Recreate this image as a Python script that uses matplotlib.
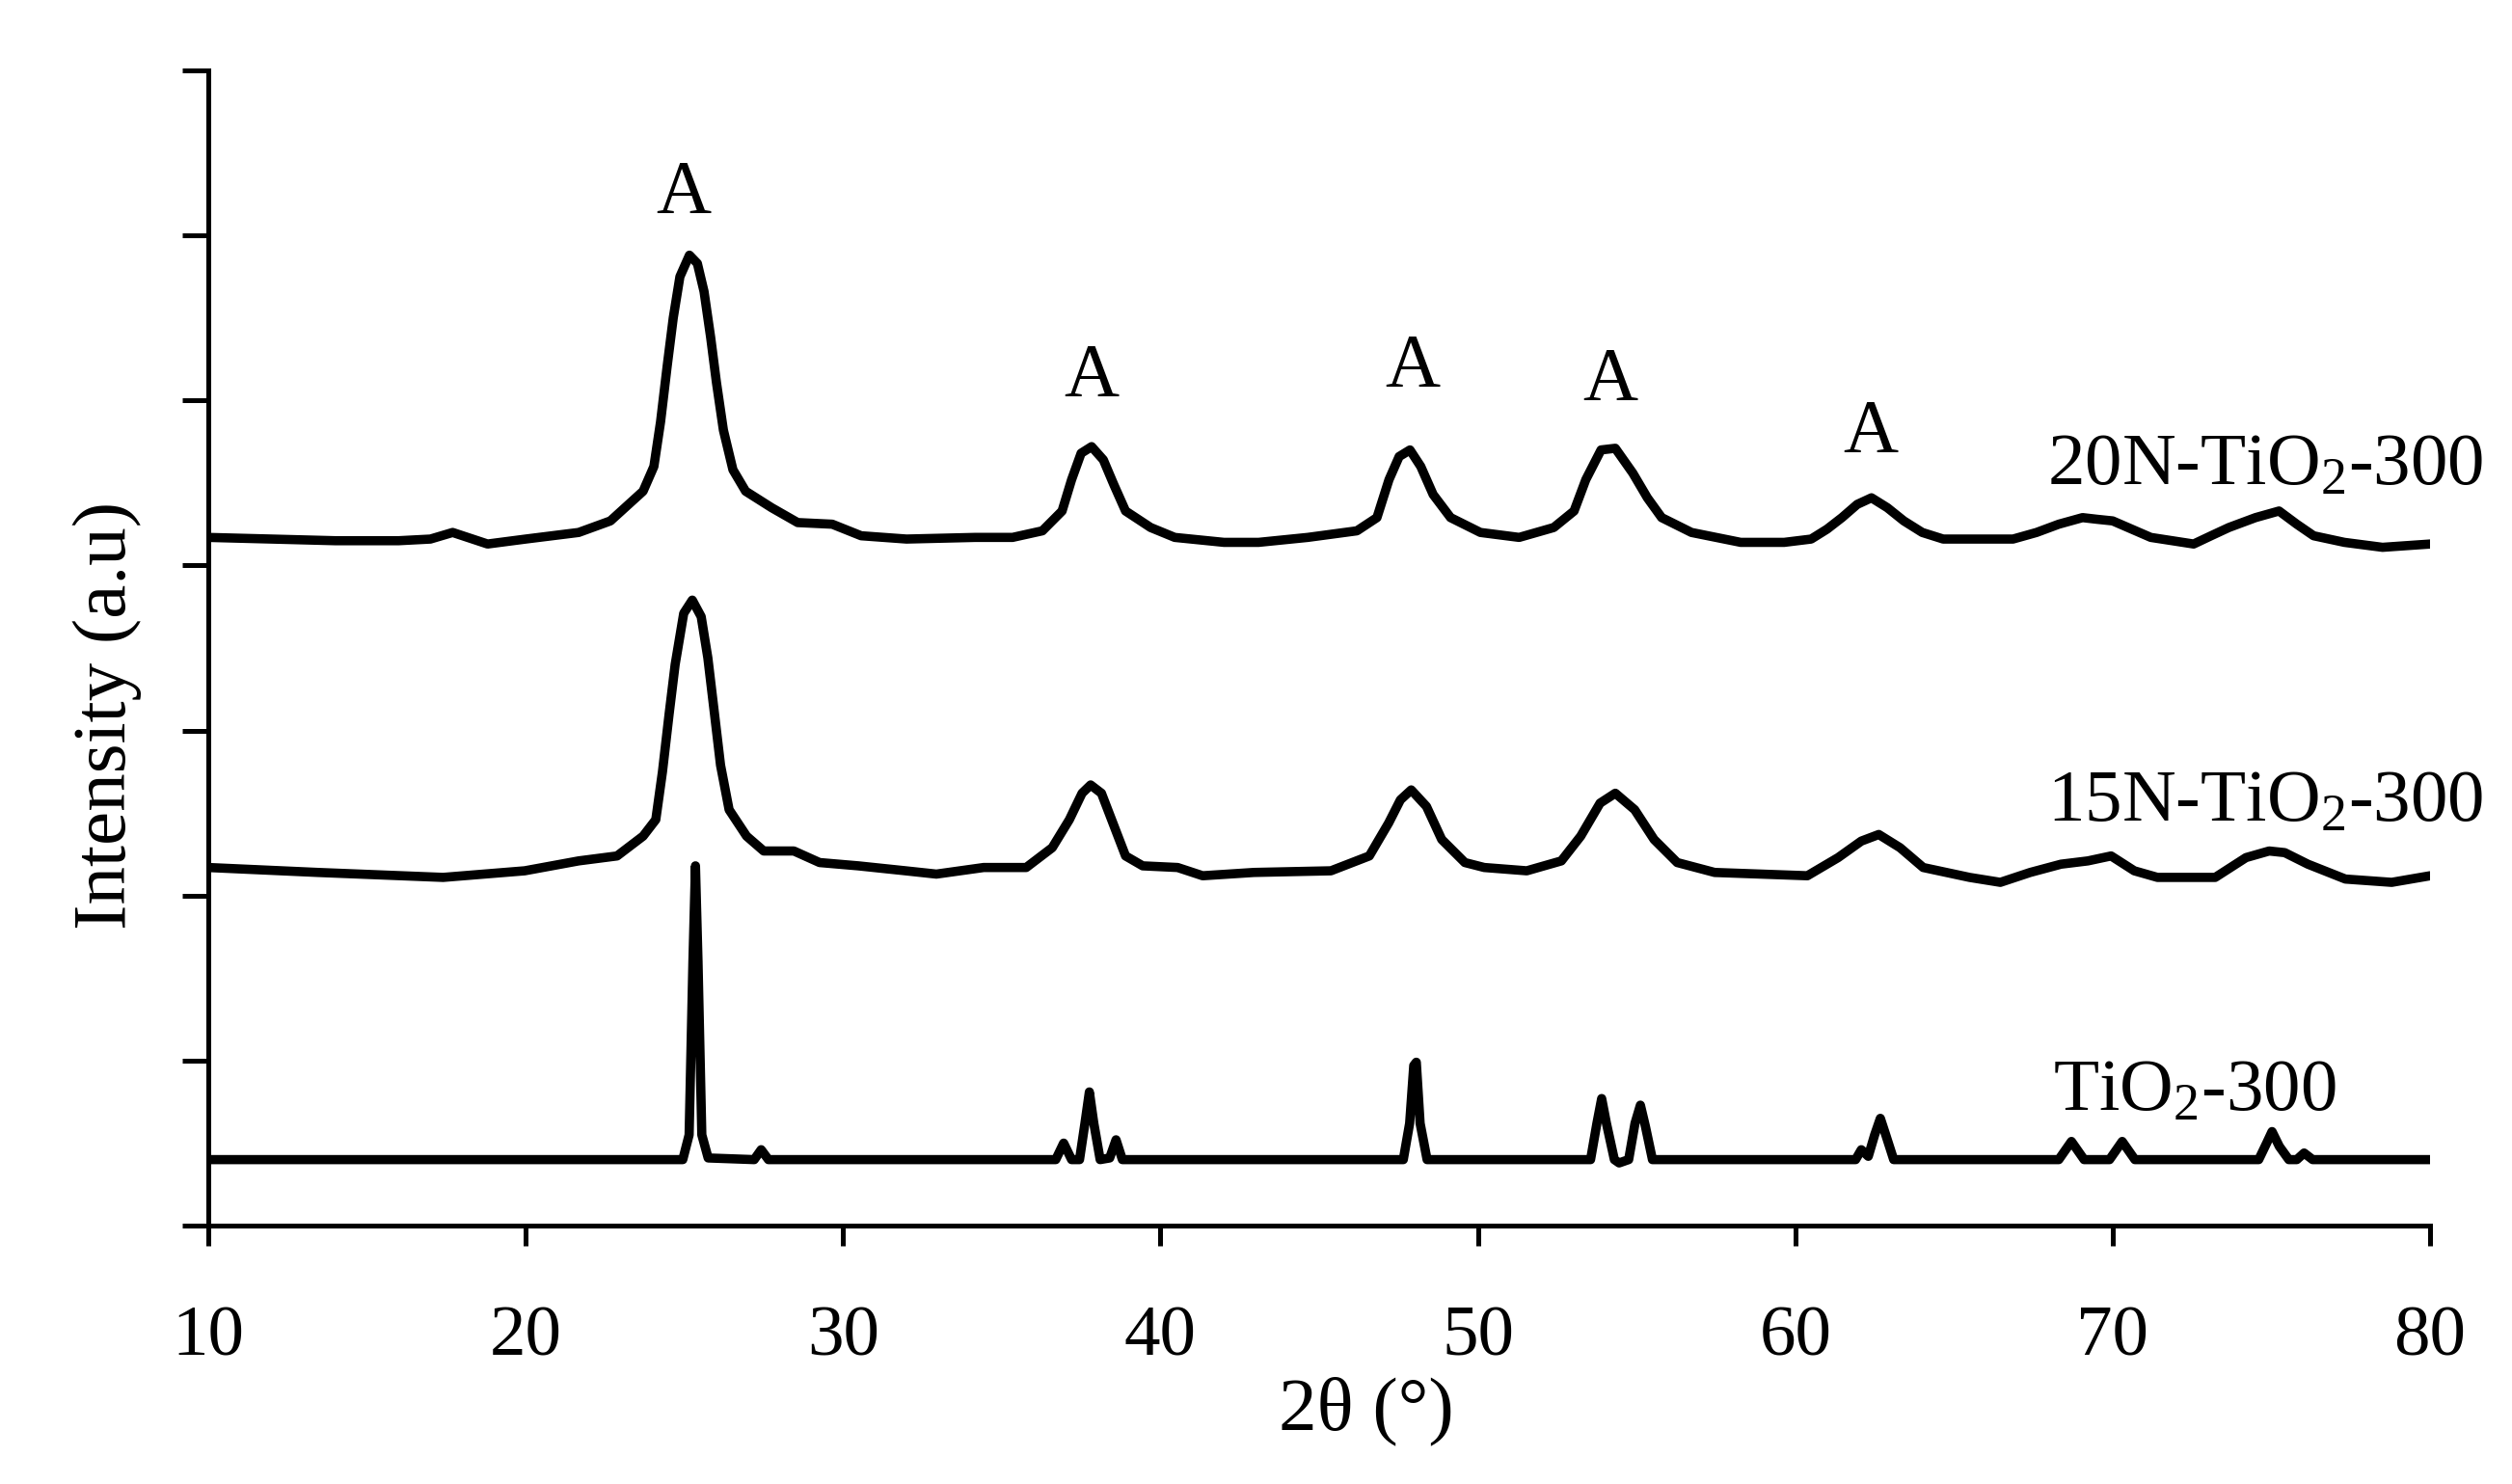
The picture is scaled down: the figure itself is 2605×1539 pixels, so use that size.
import matplotlib
matplotlib.use('Agg')
import matplotlib.pyplot as plt

plt.rcParams['font.family'] = ['Liberation Serif', 'DejaVu Serif']
plt.rcParams['mathtext.fontset'] = 'custom'
plt.rcParams['mathtext.rm'] = 'Liberation Serif'
plt.rcParams['mathtext.it'] = 'Liberation Serif:italic'

# 20N-TiO2-300 (offset trace)
x_20n = [10.0, 12.0, 14.0, 16.0, 17.0, 17.7, 18.8, 20.0, 21.67, 22.67,
         23.7, 24.04, 24.25, 24.46, 24.65, 24.86, 25.16, 25.41, 25.62, 25.83,
         26.01, 26.23, 26.53, 26.93, 27.75, 28.57, 29.66, 30.57, 32.0, 34.16,
         35.34, 36.28, 36.9, 37.2, 37.5, 37.83, 38.2, 38.53, 38.9, 39.69,
         40.45, 42.0, 43.09, 44.64, 46.19, 46.82, 47.2, 47.52, 47.86, 48.2,
         48.59, 49.14, 50.08, 51.3, 52.39, 53.03, 53.4, 53.88, 54.33, 54.88,
         55.34, 55.79, 56.73, 58.28, 59.65, 60.5, 61.0, 61.47, 61.95, 62.4,
         62.9, 63.42, 64.0, 64.66, 66.86, 67.6, 68.3, 69.05, 69.5, 70.0,
         70.6, 71.2, 72.55, 73.1, 73.66, 74.5, 75.24, 75.8, 76.33, 77.3,
         78.5, 80.0]
y_20n = [4.17, 4.16, 4.15, 4.15, 4.16, 4.20, 4.13, 4.16, 4.20, 4.27,
         4.45, 4.60, 4.87, 5.21, 5.50, 5.75, 5.88, 5.83, 5.66, 5.38,
         5.11, 4.82, 4.58, 4.45, 4.35, 4.26, 4.25, 4.18, 4.16, 4.17,
         4.17, 4.21, 4.33, 4.52, 4.68, 4.72, 4.64, 4.49, 4.33, 4.23,
         4.17, 4.14, 4.14, 4.17, 4.21, 4.29, 4.52, 4.66, 4.70, 4.60,
         4.43, 4.29, 4.20, 4.17, 4.23, 4.33, 4.52, 4.70, 4.71, 4.56,
         4.41, 4.29, 4.20, 4.14, 4.14, 4.16, 4.22, 4.29, 4.37, 4.41,
         4.35, 4.27, 4.20, 4.16, 4.16, 4.20, 4.25, 4.29, 4.28, 4.27,
         4.22, 4.17, 4.13, 4.18, 4.23, 4.29, 4.33, 4.25, 4.18, 4.14,
         4.11, 4.13]

# 15N-TiO2-300
x_15n = [10.0, 13.46, 17.4, 19.97, 21.67, 22.88, 23.7, 24.1, 24.31, 24.52,
         24.71, 24.98, 25.25, 25.53, 25.74, 25.95, 26.14, 26.41, 26.96, 27.5,
         28.45, 29.26, 30.48, 31.97, 32.94, 34.43, 35.77, 36.59, 37.13, 37.53,
         37.8, 38.14, 38.5, 38.9, 39.44, 40.54, 41.33, 42.94, 45.37, 46.58,
         47.19, 47.56, 47.9, 48.38, 48.86, 49.59, 50.2, 51.54, 52.63, 53.24,
         53.85, 54.33, 54.94, 55.55, 56.28, 57.46, 60.38, 61.35, 62.08, 62.63,
         63.3, 64.03, 65.49, 66.46, 67.4, 68.37, 69.22, 69.95, 70.68, 71.41,
         73.23, 74.2, 74.93, 75.42, 76.15, 77.33, 78.79, 80.0]
y_15n = [2.17, 2.14, 2.11, 2.15, 2.21, 2.24, 2.36, 2.46, 2.75, 3.10,
         3.40, 3.71, 3.79, 3.69, 3.44, 3.10, 2.79, 2.52, 2.36, 2.27,
         2.27, 2.20, 2.18, 2.15, 2.13, 2.17, 2.17, 2.29, 2.46, 2.62,
         2.67, 2.62, 2.44, 2.24, 2.18, 2.17, 2.12, 2.14, 2.15, 2.24,
         2.44, 2.58, 2.64, 2.54, 2.34, 2.20, 2.17, 2.15, 2.21, 2.36,
         2.56, 2.62, 2.52, 2.34, 2.20, 2.14, 2.12, 2.23, 2.33, 2.37,
         2.29, 2.17, 2.11, 2.08, 2.14, 2.19, 2.21, 2.24, 2.15, 2.11,
         2.11, 2.23, 2.27, 2.26, 2.19, 2.10, 2.08, 2.12]

# TiO2-300
x_tio2 = [10.0, 24.95, 25.15, 25.27, 25.35, 25.43, 25.55, 25.75,
          27.2, 27.42, 27.65,
          36.7, 36.95, 37.2, 37.45, 37.62, 37.76, 37.9, 38.1, 38.4, 38.6, 38.8,
          47.65, 47.85, 47.98, 48.06, 48.18, 48.4,
          53.55, 53.75, 53.9, 54.05, 54.3, 54.45, 54.75, 54.95, 55.12, 55.28, 55.5,
          61.9, 62.08, 62.3, 62.5, 62.68, 62.85, 63.1,
          68.3, 68.7, 69.1, 69.9, 70.3, 70.7,
          74.6, 74.85, 75.02, 75.25, 75.55, 75.8, 76.03, 76.3, 80.0]
y_tio2 = [0.40, 0.40, 0.55, 1.60, 2.18, 1.60, 0.55, 0.41,
          0.40, 0.46, 0.40,
          0.40, 0.50, 0.40, 0.40, 0.62, 0.81, 0.62, 0.40, 0.41, 0.52, 0.40,
          0.40, 0.62, 0.97, 0.99, 0.62, 0.40,
          0.40, 0.62, 0.77, 0.62, 0.40, 0.38, 0.40, 0.62, 0.73, 0.60, 0.40,
          0.40, 0.46, 0.42, 0.55, 0.65, 0.55, 0.40,
          0.40, 0.51, 0.40, 0.40, 0.51, 0.40,
          0.40, 0.50, 0.57, 0.48, 0.40, 0.40, 0.44, 0.40, 0.40]

# anatase peak markers
peak_x = [24.98, 37.83, 47.93, 54.18, 62.36]
peak_y = [6.14, 5.03, 5.09, 5.01, 4.69]

series_names = ['20N-TiO$_2$-300', '15N-TiO$_2$-300', 'TiO$_2$-300']
name_x = [67.95, 67.95, 68.13]
name_y = [4.49, 2.45, 0.70]

x_ticks = [10, 20, 30, 40, 50, 60, 70, 80]
y_ticks = [0, 1, 2, 3, 4, 5, 6, 7]

fig = plt.figure(figsize=(2605 / 300, 1539 / 300), dpi=300)
ax = fig.add_axes([0.0829, 0.1741, 0.8845, 0.7785])

for xs, ys in [(x_20n, y_20n), (x_15n, y_15n), (x_tio2, y_tio2)]:
    ax.plot(xs, ys, color='black', lw=2.3, solid_joinstyle='round', solid_capstyle='round')

for px, py in zip(peak_x, peak_y):
    ax.text(px, py, 'A', ha='center', va='baseline', fontsize=19)

for nm, nx, ny in zip(series_names, name_x, name_y):
    ax.text(nx, ny, nm, ha='left', va='baseline', fontsize=18.5, clip_on=False)

ax.set_xlim(10, 80)
ax.set_ylim(0, 7)
ax.set_xticks(x_ticks)
ax.set_yticks(y_ticks)
ax.set_yticklabels([])
ax.spines['top'].set_visible(False)
ax.spines['right'].set_visible(False)
for s in ['left', 'bottom']:
    ax.spines[s].set_linewidth(1.2)
ax.tick_params(axis='x', direction='out', length=5, width=1.2, pad=15, labelsize=18)
ax.tick_params(axis='y', direction='out', length=6.5, width=1.2)

ax.set_xlabel('2θ (°)', fontsize=19)
ax.xaxis.set_label_coords(0.521, -0.131)
ax.set_ylabel('Intensity (a.u)', fontsize=19)
ax.yaxis.set_label_coords(-0.030, 0.442)

fig.savefig('out.png', dpi=300)
